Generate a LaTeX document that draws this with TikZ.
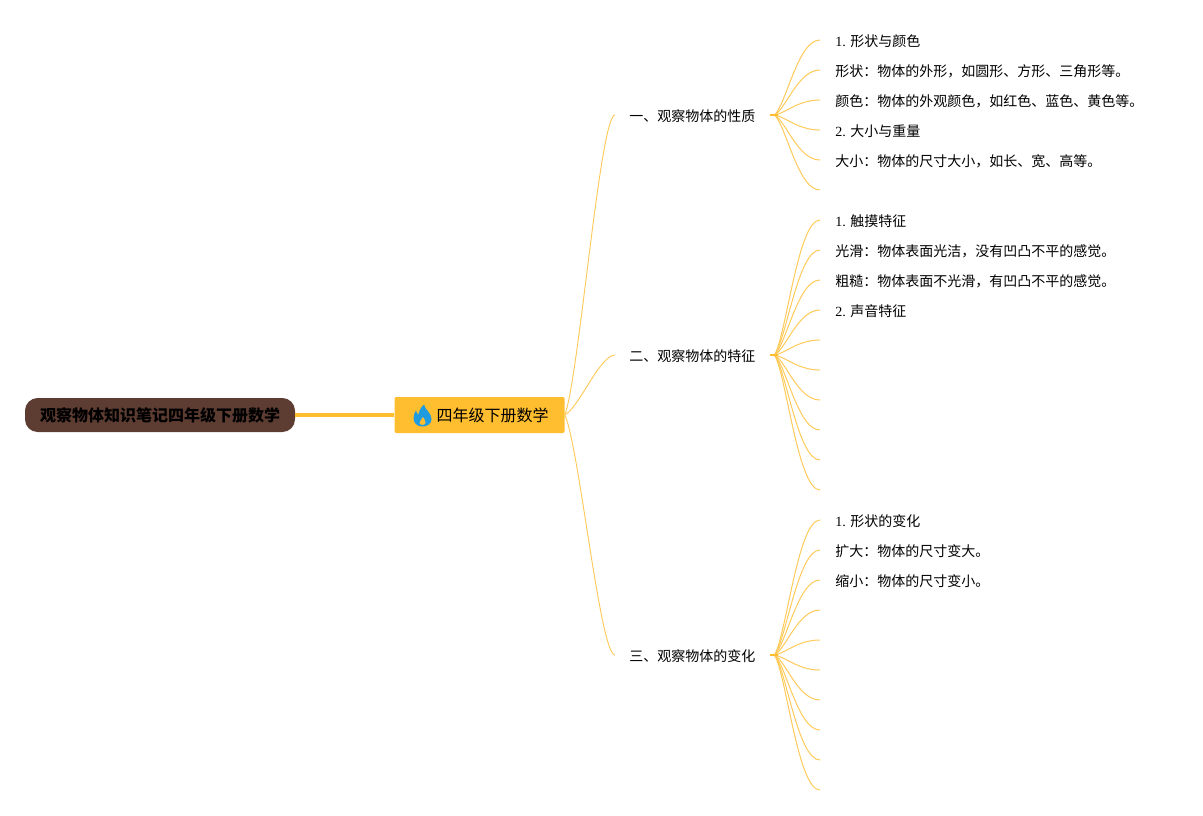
\documentclass[tikz,border=0pt]{standalone}
\usepackage{fontspec}
\usetikzlibrary{calc}
\setmainfont{Liberation Serif}
\newfontfamily\cjk{Noto Sans CJK SC}
\definecolor{rootbrown}{HTML}{5D3C32}
\definecolor{mapgold}{HTML}{FFBD30}
\definecolor{flameblue}{HTML}{1F9BE0}
\tikzset{
	rootbox/.style={draw=none, fill=rootbrown, rounded corners=9.5pt, minimum width=202.5pt, minimum height=25.5pt, inner sep=0pt, font=\fontsize{12pt}{14pt}\selectfont\cjk\bfseries},
	subjectbox/.style={draw=none, fill=mapgold, rounded corners=1pt, minimum width=127.5pt, minimum height=27pt, inner sep=0pt, font=\fontsize{12pt}{14pt}\selectfont\cjk},
	topic/.style={anchor=west, inner xsep=10.5pt, inner ysep=2pt, text height=11.7pt, text depth=1.6pt, font=\fontsize{10.5pt}{13pt}\selectfont\cjk},
	leaf/.style={anchor=west, inner xsep=11.25pt, inner ysep=2pt, text height=11.7pt, text depth=1.6pt, font=\fontsize{10.5pt}{13pt}\selectfont\cjk},
	trunk/.style={draw=mapgold, line width=3pt},
	branch/.style={draw=mapgold!80, line width=0.7pt},
	twig/.style={draw=mapgold!80, line width=0.75pt},
	stub/.style={draw=mapgold, line width=1.5pt}
}
\begin{document}
\begin{tikzpicture}[x=0.75pt, y=-0.75pt]
	\useasboundingbox (0,0) rectangle (1203,815);

	\node[rootbox] (root) at (160,415) {\raisebox{-0.75pt}{观察物体知识笔记四年级下册数学}};
	\node[subjectbox] (subject) at (479.5,415) {\raisebox{-0.75pt}{\hspace{19.5pt}四年级下册数学}};
	\fill[flameblue] (424,404.5) .. controls (425,410) and (431.5,413) .. (431.5,419) .. controls (431.5,424) and (427,426.5) .. (422.5,426.5) .. controls (417,426.5) and (413.5,423) .. (413.5,418) .. controls (413.5,415) and (415,412) .. (416,410.5) .. controls (416.5,412.5) and (417,413.5) .. (418.5,414.5) .. controls (419,411) and (421,407) .. (424,404.5) -- cycle;
	\fill[mapgold] (423,417) .. controls (424,419) and (426,421) .. (425.5,423) .. controls (425,425.5) and (420,425.5) .. (419.5,423) .. controls (419,421) and (422,420) .. (423,417) -- cycle;

	\node[topic] (prop) at (615,115) {一、观察物体的性质};
	\node[topic] (feat) at (615,355) {二、观察物体的特征};
	\node[topic] (chan) at (615,655) {三、观察物体的变化};

	\node[leaf] (a1) at (820,40) {{\rmfamily 1. }形状与颜色};
	\node[leaf] (a2) at (820,70) {形状：物体的外形，如圆形、方形、三角形等。};
	\node[leaf] (a3) at (820,100) {颜色：物体的外观颜色，如红色、蓝色、黄色等。};
	\node[leaf] (a4) at (820,130) {{\rmfamily 2. }大小与重量};
	\node[leaf] (a5) at (820,160) {大小：物体的尺寸大小，如长、宽、高等。};
	\coordinate (a6) at (820,190);

	\node[leaf] (b1) at (820,220) {{\rmfamily 1. }触摸特征};
	\node[leaf] (b2) at (820,250) {光滑：物体表面光洁，没有凹凸不平的感觉。};
	\node[leaf] (b3) at (820,280) {粗糙：物体表面不光滑，有凹凸不平的感觉。};
	\node[leaf] (b4) at (820,310) {{\rmfamily 2. }声音特征};
	\coordinate (b5) at (820,340);
	\coordinate (b6) at (820,370);
	\coordinate (b7) at (820,400);
	\coordinate (b8) at (820,430);
	\coordinate (b9) at (820,460);
	\coordinate (b10) at (820,490);

	\node[leaf] (c1) at (820,520) {{\rmfamily 1. }形状的变化};
	\node[leaf] (c2) at (820,550) {扩大：物体的尺寸变大。};
	\node[leaf] (c3) at (820,580) {缩小：物体的尺寸变小。};
	\coordinate (c4) at (820,610);
	\coordinate (c5) at (820,640);
	\coordinate (c6) at (820,670);
	\coordinate (c7) at (820,700);
	\coordinate (c8) at (820,730);
	\coordinate (c9) at (820,760);
	\coordinate (c10) at (820,790);

	\coordinate (prophub) at ([xshift=3.75pt]prop.east);
	\coordinate (feathub) at ([xshift=3.75pt]feat.east);
	\coordinate (chanhub) at ([xshift=3.75pt]chan.east);

	\draw[trunk] (root) -- (subject);
	\foreach \t in {prop,feat,chan}
		\draw[branch] (subject.east) .. controls ($(subject.east)!0.12!(\t.west)+(8,0)$) and +(-15,0) .. (\t.west);
	\foreach \l in {a1.west,a2.west,a3.west,a4.west,a5.west,a6}
		\draw[twig] (prophub) .. controls ($(prophub)!0.15!(\l)+(5,0)$) and +(-22,0) .. (\l);
	\foreach \l in {b1.west,b2.west,b3.west,b4.west,b5,b6,b7,b8,b9,b10}
		\draw[twig] (feathub) .. controls ($(feathub)!0.15!(\l)+(5,0)$) and +(-22,0) .. (\l);
	\foreach \l in {c1.west,c2.west,c3.west,c4,c5,c6,c7,c8,c9,c10}
		\draw[twig] (chanhub) .. controls ($(chanhub)!0.15!(\l)+(5,0)$) and +(-22,0) .. (\l);
	\foreach \t in {prop,feat,chan}
		\draw[stub] (\t.east) -- ([xshift=6pt]\t.east);
\end{tikzpicture}
\end{document}
